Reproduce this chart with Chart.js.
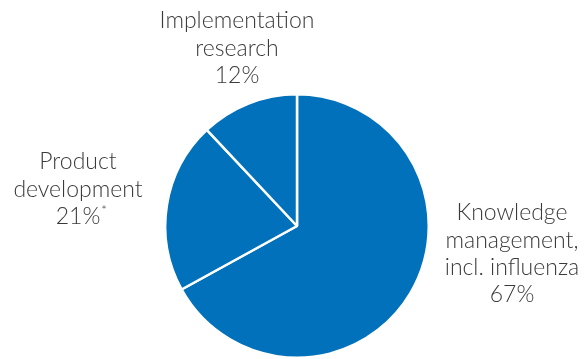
<!DOCTYPE html>
<html>
<head>
<meta charset="utf-8">
<script src="https://cdn.jsdelivr.net/npm/chart.js@4/dist/chart.umd.min.js"></script>
<style>
  html, body { margin: 0; padding: 0; background: #fff; }
  #wrap { width: 587px; height: 359px; }
</style>
</head>
<body>
<div id="wrap"><canvas id="pieChart"></canvas></div>
<script>
const categories = ['Knowledge management, incl. influenza', 'Product development', 'Implementation research'];
const shares = [67, 21, 12];
const labelLines = [
    ['Knowledge', 'management,', 'incl. influenza', '67%'],
    ['Product', 'development', '21%*'],
    ['Implementation', 'research', '12%']
];
// label block offsets from the pie centre (first line centre)
const labelOffsets = [[215, -13], [-219, -64], [-60, -205]];

const FONT = '300 23px Lato, "Open Sans", sans-serif';
const LINE = 27.3;

const sliceLabels = {
    id: 'sliceLabels',
    afterDraw(chart) {
        const arc = chart.getDatasetMeta(0).data[0];
        const ctx = chart.ctx;
        ctx.save();
        ctx.font = FONT;
        ctx.fillStyle = '#3a3a3a';
        ctx.textAlign = 'center';
        ctx.textBaseline = 'middle';
        labelLines.forEach(function(lines, i) {
            const ox = arc.x + labelOffsets[i][0];
            const oy = arc.y + labelOffsets[i][1];
            lines.forEach(function(t, j) {
                const y = oy + j * LINE;
                if (t.endsWith('*')) {
                    const base = t.slice(0, -1);
                    const w = ctx.measureText(base).width;
                    ctx.fillText(base, ox, y);
                    ctx.save();
                    ctx.font = '300 13px Lato, sans-serif';
                    ctx.textAlign = 'left';
                    ctx.fillText('*', ox + w / 2 + 1, y - 6);
                    ctx.restore();
                } else {
                    ctx.fillText(t, ox, y);
                }
            });
        });
        ctx.restore();
    }
};

const ctx = document.getElementById('pieChart').getContext('2d');
new Chart(ctx, {
    type: 'pie',
    data: {
        labels: categories,
        datasets: [{
            data: shares,
            backgroundColor: '#0071ba',
            borderColor: '#ffffff',
            borderWidth: 2.5
        }]
    },
    options: {
        responsive: true,
        maintainAspectRatio: false,
        animation: false,
        layout: { padding: { top: 93, left: 7, bottom: 0 } },
        plugins: {
            legend: { display: false },
            tooltip: { enabled: false }
        }
    },
    plugins: [sliceLabels]
});
</script>
</body>
</html>
